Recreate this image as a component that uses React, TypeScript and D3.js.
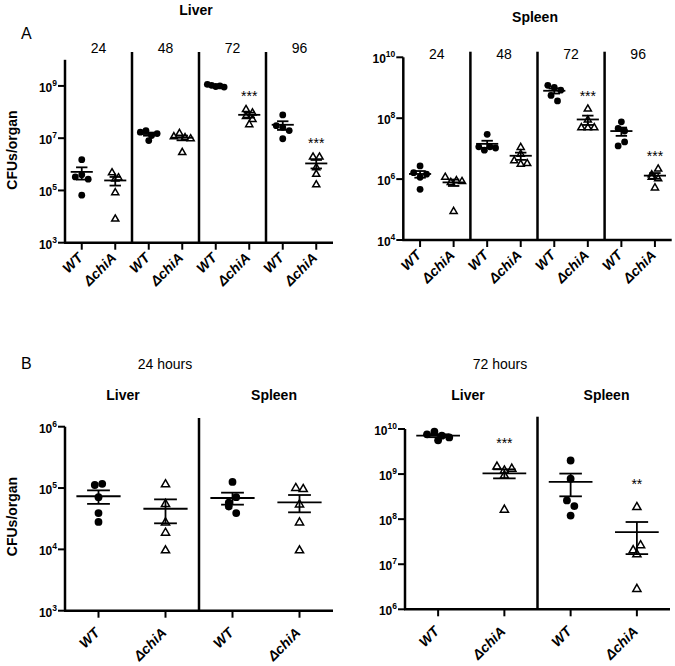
import React from "react";
import * as d3 from "d3";

// ---------- data ----------
const timepoints = ["24", "48", "72", "96"];
const strains = ["WT", "ΔchiA"];
const organs = ["Liver", "Spleen"];

// Panel A – liver, CFUs per organ, per time point (h)
const liverWT_A = [
  [1.5e6, 3.3e5, 4.0e5, 2.7e5, 6.6e4],
  [1.7e7, 1.95e7, 1.26e7, 1.5e7, 8.1e6],
  [1.15e9, 1.05e9, 9.5e8, 1.0e9, 9.0e8],
  [7.8e7, 3.0e7, 2.6e7, 1.95e7, 9.5e6],
];
const liverChiA_A = [
  [5.0e5, 2.9e5, 3.2e5, 8.7e4, 8.5e3],
  [1.2e7, 1.6e7, 1.1e7, 3.0e6, 1.0e7],
  [1.32e8, 9.8e7, 7.2e7, 5.5e7, 3.5e7],
  [2.0e6, 2.0e6, 7.9e5, 4.4e5, 1.74e5],
];
const liverSig_A = ["", "", "***", "***"];

// Panel A – spleen
const spleenWT_A = [
  [1.62e6, 2.7e6, 1.15e6, 4.6e5, 1.45e6],
  [2.95e7, 1.15e7, 8.9e6, 1.15e7, 1.05e7],
  [1.2e9, 1.02e9, 8.3e8, 5.6e8, 3.7e8],
  [4.6e7, 7.6e7, 3.8e7, 1.23e7, 1.66e7],
];
const spleenChiA_A = [
  [1.2e6, 8.1e5, 9.3e5, 8.7e5, 9.1e4],
  [1.15e7, 6.9e6, 4.2e6, 3.2e6, 3.4e6],
  [2.1e8, 5.1e7, 5.1e7, 5.1e7, 9.1e7],
  [1.45e6, 2.24e6, 1.2e6, 5.4e5, 1.07e6],
];
const spleenSig_A = ["", "", "***", "***"];

// Panel B – 24 hours
const wt24 = [
  [1.12e5, 1.17e5, 7.1e4, 3.9e4, 2.8e4],
  [1.26e5, 5.8e4, 7.1e4, 5.0e4, 3.9e4],
];
const chiA24 = [
  [1.17e5, 5.6e4, 2.8e4, 1.9e4, 9.8e3],
  [1.02e5, 9.8e4, 5.5e4, 2.8e4, 9.8e3],
];
const sig24 = ["", ""];

// Panel B – 72 hours
const wt72 = [
  [7.6e9, 8.7e9, 7.1e9, 5.6e9, 6.5e9],
  [2.0e9, 7.9e8, 2.6e8, 1.95e8, 1.2e8],
];
const chiA72 = [
  [1.5e9, 1.23e9, 9.5e8, 1.35e9, 1.66e8],
  [1.9e8, 2.1e7, 2.7e7, 1.7e7, 2.9e6],
];
const sig72 = ["***", "**"];

// ---------- layout ----------
const FONT = "'Liberation Sans', Arial, Helvetica, sans-serif";

type Group = { title: string; wt: number[]; mut: number[]; sig: string };
type PanelCfg = {
  x0: number; x1: number; yBot: number; yTop: number;
  lo: number; hi: number; ticks: number[];
  sepTop: number; titleY: number; titleBold: boolean; titleX?: number[];
  labelDy: number; r: number; starOff: number;
  groups: Group[];
};

function mkGroups(titles: string[], wt: number[][], mut: number[][], sig: string[]): Group[] {
  return titles.map((t, i) => ({ title: t, wt: wt[i], mut: mut[i], sig: sig[i] }));
}

const panels: PanelCfg[] = [
  {
    x0: 65, x1: 333, yBot: 242.7, yTop: 59.8, lo: 3, hi: 10, ticks: [3, 5, 7, 9],
    sepTop: 52, titleY: 52.7, titleBold: false, labelDy: 16, r: 3.4, starOff: 16,
    groups: mkGroups(timepoints, liverWT_A, liverChiA_A, liverSig_A),
  },
  {
    x0: 403.3, x1: 671.7, yBot: 240, yTop: 57.3, lo: 4, hi: 10, ticks: [4, 6, 8, 10],
    sepTop: 51.7, titleY: 59, titleBold: false, labelDy: 16, r: 3.4, starOff: 15,
    groups: mkGroups(timepoints, spleenWT_A, spleenChiA_A, spleenSig_A),
  },
  {
    x0: 65, x1: 333, yBot: 610.7, yTop: 426.7, lo: 3, hi: 6, ticks: [3, 4, 5, 6],
    sepTop: 418, titleY: 400, titleBold: true, titleX: [123, 274], labelDy: 23, r: 3.9, starOff: 26,
    groups: mkGroups(organs, wt24, chiA24, sig24),
  },
  {
    x0: 405, x1: 670, yBot: 609.3, yTop: 429, lo: 6, hi: 10, ticks: [6, 7, 8, 9, 10],
    sepTop: 416.7, titleY: 400, titleBold: true, titleX: [468, 606.5], labelDy: 23, r: 3.9, starOff: 26,
    groups: mkGroups(organs, wt72, chiA72, sig72),
  },
];

function swarm(ys: number[], r: number, maxSpread: number): number[] {
  const idx = ys.map((_, i) => i).sort((a, b) => ys[a] - ys[b]);
  const offs = new Array(ys.length).fill(0);
  let row: number[] = [];
  const flush = () => {
    const n = row.length;
    if (!n) return;
    const sp = n > 1 ? Math.min(2 * r * 0.95, maxSpread / (n - 1)) : 0;
    const ordered = [...row].sort((a, b) => a - b);
    ordered.forEach((k, j) => { offs[k] = (j - (n - 1) / 2) * sp; });
    row = [];
  };
  for (const i of idx) {
    if (row.length && ys[i] - ys[row[0]] > r * 1.8) flush();
    row.push(i);
  }
  flush();
  return offs;
}

function Panel({ cfg }: { cfg: PanelCfg }) {
  const y = d3.scaleLog().domain([10 ** cfg.lo, 10 ** cfg.hi]).range([cfg.yBot, cfg.yTop]);
  const cats: string[] = [];
  cfg.groups.forEach((g, gi) => strains.forEach((s) => cats.push(`${gi}|${s}`)));
  const x = d3.scaleBand().domain(cats).range([cfg.x0, cfg.x1]).padding(0);
  const bw = x.bandwidth();
  const tri = d3.symbol().type(d3.symbolTriangle).size(cfg.r * cfg.r * 1.9)();
  const els: React.ReactNode[] = [];

  // separators
  cfg.groups.forEach((g, gi) => {
    if (gi > 0) {
      const sx = x(`${gi}|${strains[0]}`)!;
      els.push(<line key={`sep${gi}`} x1={sx} x2={sx} y1={cfg.sepTop} y2={cfg.yBot} stroke="#000" strokeWidth={2.5} />);
    }
    const gx = cfg.titleX ? cfg.titleX[gi] : x(`${gi}|${strains[0]}`)! + bw;
    els.push(
      <text key={`gt${gi}`} x={gx} y={cfg.titleY} textAnchor="middle" fontSize={14}
        fontWeight={cfg.titleBold ? "bold" : "normal"}>{g.title}</text>
    );
  });

  // axes
  els.push(<line key="yax" x1={cfg.x0} x2={cfg.x0} y1={y(10 ** cfg.hi)} y2={cfg.yBot} stroke="#000" strokeWidth={2.5} />);
  els.push(<line key="xax" x1={cfg.x0 - 1} x2={cfg.x1} y1={cfg.yBot} y2={cfg.yBot} stroke="#000" strokeWidth={2.5} />);
  cfg.ticks.forEach((e) => {
    const ty = y(10 ** e);
    els.push(<line key={`yt${e}`} x1={cfg.x0 - 7} x2={cfg.x0} y1={ty} y2={ty} stroke="#000" strokeWidth={2} />);
    els.push(
      <text key={`yl${e}`} x={cfg.x0 - 8} y={ty + 6} textAnchor="end" fontSize={12} fontWeight="bold">
        10<tspan dy={-6} fontSize={8.5}>{e}</tspan>
      </text>
    );
  });

  // categories
  cfg.groups.forEach((g, gi) => {
    strains.forEach((s, si) => {
      const key = `${gi}|${s}`;
      const cx = x(key)! + bw / 2;
      els.push(<line key={`xt${key}`} x1={cx} x2={cx} y1={cfg.yBot} y2={cfg.yBot + 7} stroke="#000" strokeWidth={2} />);
      els.push(
        <text key={`xl${key}`} transform={`translate(${cx + 2},${cfg.yBot + cfg.labelDy}) rotate(-45)`}
          textAnchor="end" fontSize={14} fontWeight="bold" fontStyle="italic">{s}</text>
      );
      const vals = si === 0 ? g.wt : g.mut;
      const ys = vals.map((v) => y(v));
      const offs = swarm(ys, cfg.r, bw * 0.5);
      vals.forEach((v, i) => {
        const px = cx + offs[i];
        const py = ys[i];
        if (si === 0) {
          els.push(<circle key={`p${key}${i}`} cx={px} cy={py} r={cfg.r} fill="#000" />);
        } else {
          els.push(<path key={`p${key}${i}`} d={tri!} transform={`translate(${px},${py + 0.6})`}
            fill="#fff" stroke="#000" strokeWidth={1.5} />);
        }
      });
      const mean = d3.mean(vals)!;
      const sem = d3.deviation(vals)! / Math.sqrt(vals.length);
      const ym = y(mean), yh = y(mean + sem), yl = y(Math.max(mean - sem, 10 ** cfg.lo));
      const mw = bw * 0.33, cw = bw * 0.17;
      els.push(<line key={`m${key}`} x1={cx - mw} x2={cx + mw} y1={ym} y2={ym} stroke="#000" strokeWidth={1.8} />);
      els.push(<line key={`sh${key}`} x1={cx - cw} x2={cx + cw} y1={yh} y2={yh} stroke="#000" strokeWidth={1.8} />);
      els.push(<line key={`sl${key}`} x1={cx - cw} x2={cx + cw} y1={yl} y2={yl} stroke="#000" strokeWidth={1.8} />);
      els.push(<line key={`sv${key}`} x1={cx} x2={cx} y1={yh} y2={yl} stroke="#000" strokeWidth={1.8} />);
      if (si === 1 && g.sig) {
        const top = Math.min(yh, d3.min(ys)!);
        els.push(<text key={`st${key}`} x={cx} y={top - cfg.starOff + 8} textAnchor="middle" fontSize={14}>{g.sig}</text>);
      }
    });
  });
  return <g>{els}</g>;
}

export default function App() {
  return (
    <svg width={675} height={666} viewBox="0 0 675 666"
      style={{ position: "absolute", left: 0, top: 0, background: "#fff" }}
      fontFamily={FONT} fill="#000">
      <rect x={0} y={0} width={675} height={666} fill="#fff" />
      <text x={196} y={15} textAnchor="middle" fontSize={14} fontWeight="bold">Liver</text>
      <text x={535} y={22} textAnchor="middle" fontSize={14} fontWeight="bold">Spleen</text>
      <text x={21} y={38.5} fontSize={16}>A</text>
      <text x={21} y={369} fontSize={16}>B</text>
      <text x={165} y={369} textAnchor="middle" fontSize={14}>24 hours</text>
      <text x={500} y={369} textAnchor="middle" fontSize={14}>72 hours</text>
      <text transform="translate(17,150) rotate(-90)" textAnchor="middle" fontSize={14} fontWeight="bold">CFUs/organ</text>
      <text transform="translate(17,516.5) rotate(-90)" textAnchor="middle" fontSize={14} fontWeight="bold">CFUs/organ</text>
      {panels.map((p, i) => <Panel key={i} cfg={p} />)}
    </svg>
  );
}
